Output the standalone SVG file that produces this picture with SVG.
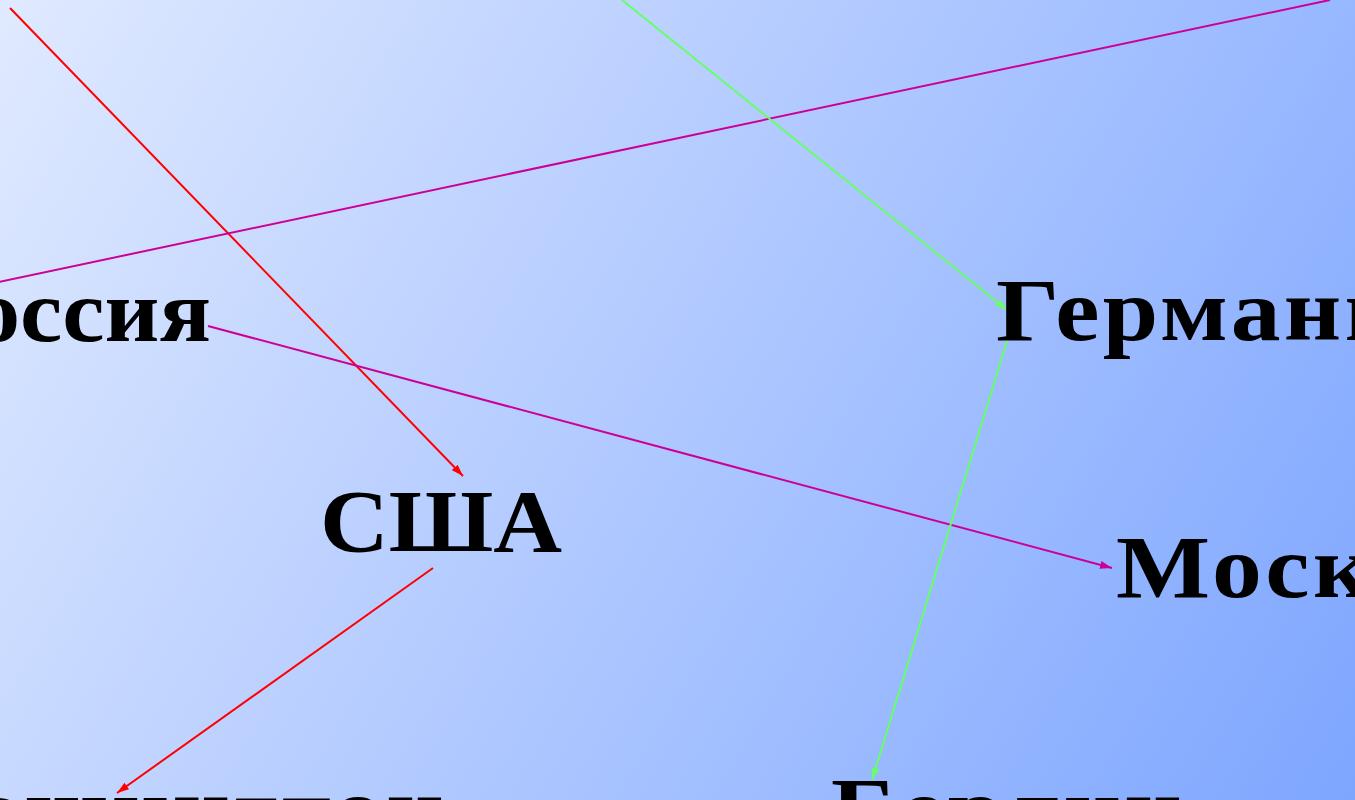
<svg xmlns="http://www.w3.org/2000/svg" width="1355" height="800" viewBox="0 0 1355 800">
<defs>
<linearGradient id="bg" x1="0" y1="0" x2="1355" y2="800" gradientUnits="userSpaceOnUse">
<stop offset="0" stop-color="#e0eaff"/>
<stop offset="1" stop-color="#7ea6ff"/>
</linearGradient>
<marker id="aR" viewBox="0 0 12 8" refX="12" refY="4" markerWidth="12" markerHeight="8" markerUnits="userSpaceOnUse" orient="auto"><path d="M0,0 L12,4 L0,8 z" fill="#ff0000"/></marker>
<marker id="aG" viewBox="0 0 12 8" refX="12" refY="4" markerWidth="12" markerHeight="8" markerUnits="userSpaceOnUse" orient="auto"><path d="M0,0 L12,4 L0,8 z" fill="#66ff66"/></marker>
<marker id="aM" viewBox="0 0 12 8" refX="12" refY="4" markerWidth="12" markerHeight="8" markerUnits="userSpaceOnUse" orient="auto"><path d="M0,0 L12,4 L0,8 z" fill="#cc0099"/></marker>
</defs>
<style>
.t{font-family:"Liberation Serif","Times New Roman",serif;font-weight:bold;font-size:89px;fill:#000}
.w{letter-spacing:3px}
.c{fill:none;stroke-width:2}
.r{stroke:#ff0000}.g{stroke:#66ff66}.m{stroke:#cc0099}
</style>
<rect width="1355" height="800" fill="url(#bg)"/>
<g id="connectors">
<line class="c r" x1="10" y1="8" x2="463" y2="476" marker-end="url(#aR)"/>
<line class="c r" x1="433" y1="568" x2="117" y2="793" marker-end="url(#aR)"/>
<line class="c m" x1="1330" y1="0" x2="-20" y2="286"/>
<line class="c m" x1="208" y1="326" x2="1112" y2="568" marker-end="url(#aM)"/>
<line class="c g" x1="622" y1="0" x2="1007" y2="310" marker-end="url(#aG)"/>
<line class="c g" x1="1008" y1="338" x2="872" y2="780" marker-end="url(#aG)"/>
</g>
<g id="russia"><text class="t" transform="translate(211,341) scale(1.07,1)" text-anchor="end">Россия</text></g>
<g id="germany"><text class="t w" transform="translate(996,340) scale(1.12,1)">Германия</text></g>
<g id="usa"><text class="t" transform="translate(320,551) scale(1.07,1)">США</text></g>
<g id="moscow"><text class="t w" transform="translate(1116,597) scale(1.12,1)">Москва</text></g>
<g id="washington"><text class="t w" transform="translate(447,839) scale(1.12,1)" text-anchor="end">Вашингтон</text></g>
<g id="berlin"><text class="t w" transform="translate(831,839) scale(1.12,1)">Берлин</text></g>
</svg>
